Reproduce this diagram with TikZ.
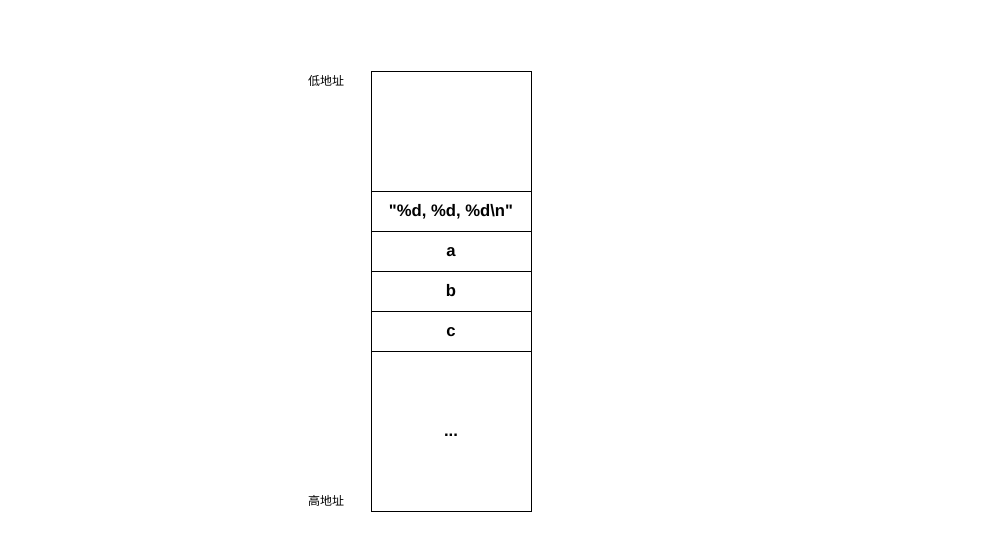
\documentclass[tikz,border=0pt]{standalone}
\usepackage{fontspec}
\setmainfont{Liberation Sans}
\newfontfamily\cjk{Noto Sans CJK SC}
\usetikzlibrary{positioning}

\tikzset{
  cell/.style={draw, line width=0.75pt, minimum width=160*0.75pt, inner sep=0pt,
    text height=9.5pt, text depth=2pt,
    font=\bfseries\fontsize{12.5}{14}\selectfont},
  addr/.style={font=\cjk\fontsize{9}{11}\selectfont, inner sep=0pt}
}

\begin{document}
\begin{tikzpicture}[x=0.75pt, y=-0.75pt]
\useasboundingbox (0,0) rectangle (1000,541);

% Stack column, from low to high address
\node[cell, minimum height=120*0.75pt] (free) at (451,131.5) {};
\node[cell, minimum height=40*0.75pt] (fmt) at (451,211.5) {\textquotedbl\%d, \%d, \%d\textbackslash n\textquotedbl};
\node[cell, minimum height=40*0.75pt] (a) at (451,251.5) {a};
\node[cell, minimum height=40*0.75pt] (b) at (451,291.5) {b};
\node[cell, minimum height=40*0.75pt] (c) at (451,331.5) {c};
\node[cell, minimum height=160*0.75pt] (rest) at (451,431.5) {...};

% Labels
\node[addr] (low) at (326,81) {低地址};
\node[addr] (high) at (326,501) {高地址};
\end{tikzpicture}
\end{document}
